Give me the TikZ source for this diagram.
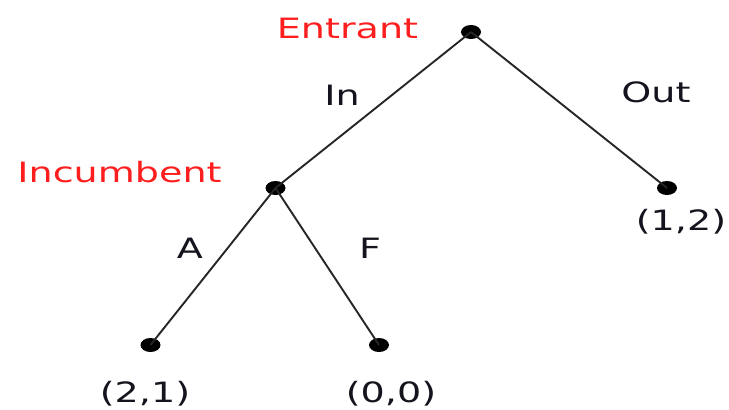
\documentclass[tikz,border=0pt]{standalone}
\usepackage{fontspec}
\setmainfont{DejaVu Sans}
\usetikzlibrary{shapes.geometric}
\definecolor{lblred}{RGB}{255,30,30}
\definecolor{lbltxt}{RGB}{20,20,30}
\tikzset{
  dot/.style={shape=ellipse, fill=black, minimum width=20pt, minimum height=14pt, inner sep=0pt},
  edge/.style={line width=1.9pt, draw=black!85},
  lbl/.style={anchor=base, inner sep=0pt, text=lbltxt, font=\fontsize{28pt}{30pt}\selectfont},
  player/.style={lbl, text=lblred}
}
\newcommand{\wide}[1]{\scalebox{1.36}[1]{#1}}
\begin{document}
\begin{tikzpicture}[x=1pt,y=-1pt]
\useasboundingbox (0,0) rectangle (729,410);
\node[dot] (r) at (471,32) {};
\node[dot] (i) at (275.5,188) {};
\node[dot] (o) at (667,188) {};
\node[dot] (a) at (150.5,345) {};
\node[dot] (f) at (379,345) {};
\draw[edge] (r.center) -- (i.center);
\draw[edge] (r.center) -- (o.center);
\draw[edge] (i.center) -- (a.center);
\draw[edge] (i.center) -- (f.center);
\node[player] (tE) at (347.5,38) {\wide{Entrant}};
\node[player] (tI) at (119.5,182) {\wide{Incumbent}};
\node[lbl] (tIn) at (342,105) {\wide{In}};
\node[lbl] (tOut) at (656,102) {\wide{Out}};
\node[lbl] (tA) at (190,258) {\wide{A}};
\node[lbl] (tF) at (370,258) {\wide{F}};
\node[lbl] (p12) at (681,230) {\wide{(1,2)}};
\node[lbl] (p21) at (145,402) {\wide{(2,1)}};
\node[lbl] (p00) at (391,402) {\wide{(0,0)}};
\end{tikzpicture}
\end{document}
